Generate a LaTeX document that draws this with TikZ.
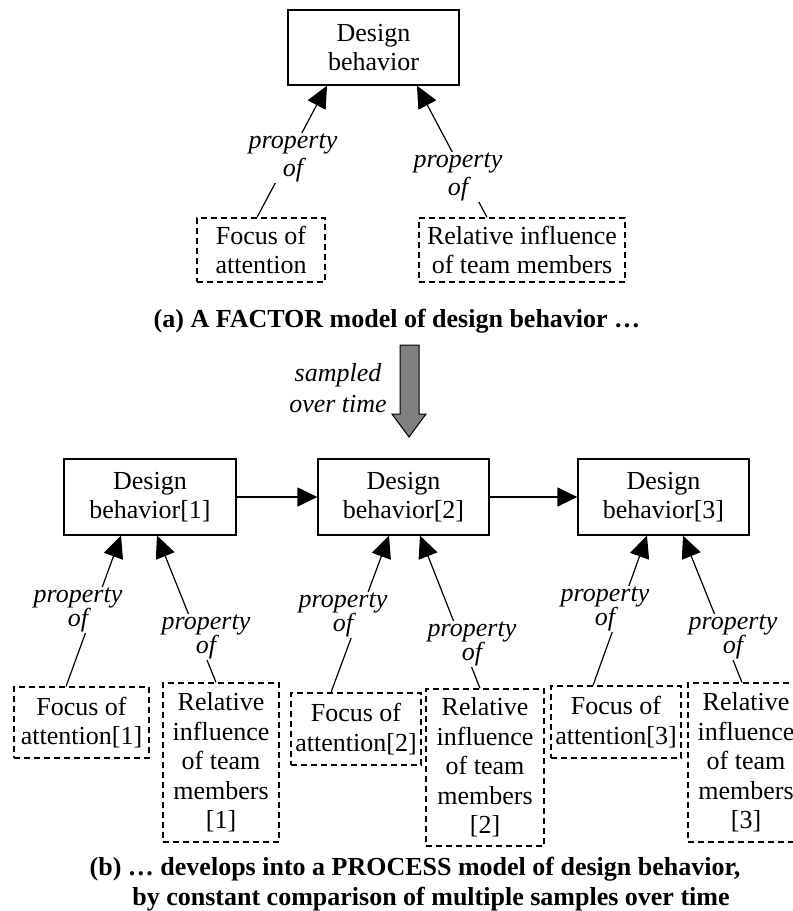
\documentclass[tikz,border=0pt]{standalone}
\usepackage{fontspec}
\setmainfont{Liberation Serif}
\usetikzlibrary{arrows.meta}

\tikzset{
  factorbox/.style={draw, line width=1.2pt, align=center, inner sep=0pt,
    font=\fontsize{26}{29.5}\selectfont},
  samplebox/.style={factorbox, dash pattern=on 6pt off 4pt},
  proparrow/.style={line width=1.2pt, -{Triangle[length=22pt,width=20pt]}},
  nextarrow/.style={line width=1.2pt, -{Triangle[length=20pt,width=19pt]}},
  proplabel/.style={fill=white, inner sep=1pt, align=center,
    font=\fontsize{26}{28.5}\selectfont\itshape},
  tightlabel/.style={proplabel, font=\fontsize{26}{24}\selectfont\itshape},
  caption/.style={font=\fontsize{26}{30}\selectfont\bfseries, inner sep=0pt}
}

\begin{document}
\begin{tikzpicture}[x=1pt,y=-1pt]
  \useasboundingbox (0,0) rectangle (793,911);

  % (a) the factor model
  \node[factorbox, minimum width=171pt, minimum height=75pt] (behav) at (373.5,47.5) {Design\\behavior};
  \node[samplebox, minimum width=128pt, minimum height=64pt] (focus) at (261,250) {Focus of\\attention};
  \node[samplebox, minimum width=206pt, minimum height=64pt] (influence) at (522,250) {Relative influence\\of team members};

  \draw[proparrow] ([xshift=-4pt]focus.north) -- ([xshift=-46.5pt]behav.south);
  \draw[proparrow] ([xshift=-35pt]influence.north) -- ([xshift=43.5pt]behav.south);
  \node[proplabel] (propfocus) at (293,158) {property\\of};
  \node[proplabel] (propinfl) at (458,177) {property\\of};

  \node[caption, anchor=base] (capa) at (397,327) {(a) A FACTOR model of design behavior …};

  % sampling arrow
  \draw[fill=gray, line width=1pt] (400,345) -- (419,345) -- (419,414) -- (426,414)
    -- (409,437) -- (392,414) -- (400,414) -- cycle;
  \node[proplabel, fill=none, font=\fontsize{26}{31}\selectfont\itshape] (sampled) at (338,388) {sampled\\over time};

  % (b) the process model
  \node[factorbox, minimum width=172pt, minimum height=76pt] (behav1) at (150,497) {Design\\behavior[1]};
  \node[factorbox, minimum width=171pt, minimum height=76pt] (behav2) at (403.5,497) {Design\\behavior[2]};
  \node[factorbox, minimum width=171pt, minimum height=76pt] (behav3) at (663.5,497) {Design\\behavior[3]};

  \draw[nextarrow] (behav1) -- (behav2);
  \draw[nextarrow] (behav2) -- (behav3);

  \node[samplebox, minimum width=135pt, minimum height=71pt] (focus1) at (81.5,722.5) {Focus of\\attention[1]};
  \node[samplebox, minimum width=116pt, minimum height=159pt] (infl1) at (221,762.5) {Relative\\influence\\of team\\members\\{[1]}};
  \node[samplebox, minimum width=130pt, minimum height=72pt] (focus2) at (356,729) {Focus of\\attention[2]};
  \node[samplebox, minimum width=118pt, minimum height=157pt] (infl2) at (485,767.5) {Relative\\influence\\of team\\members\\{[2]}};
  \node[samplebox, minimum width=130pt, minimum height=72pt] (focus3) at (616,722) {Focus of\\attention[3]};
  \node[samplebox, minimum width=116pt, minimum height=159pt] (infl3) at (746,762.5) {Relative\\influence\\of team\\members\\{[3]}};

  \draw[proparrow] ([xshift=-15.5pt]focus1.north) -- ([xshift=-29pt]behav1.south);
  \draw[proparrow] ([xshift=-5pt]infl1.north) -- ([xshift=7pt]behav1.south);
  \draw[proparrow] ([xshift=-25pt]focus2.north) -- ([xshift=-14.5pt]behav2.south);
  \draw[proparrow] ([xshift=-5pt]infl2.north) -- ([xshift=16.5pt]behav2.south);
  \draw[proparrow] ([xshift=-23pt]focus3.north) -- ([xshift=-16.5pt]behav3.south);
  \draw[proparrow] ([xshift=-4pt]infl3.north) -- ([xshift=19.5pt]behav3.south);

  \node[tightlabel] (propf1) at (78,610) {property\\of};
  \node[tightlabel] (propi1) at (206,637) {property\\of};
  \node[tightlabel] (propf2) at (343,615) {property\\of};
  \node[tightlabel] (propi2) at (472,644) {property\\of};
  \node[tightlabel] (propf3) at (605,609) {property\\of};
  \node[tightlabel] (propi3) at (733,637) {property\\of};

  \node[caption, anchor=base] (capb) at (415,875) {(b) … develops into a PROCESS model of design behavior,};
  \node[caption, anchor=base] (capc) at (431,905) {by constant comparison of multiple samples over time};
\end{tikzpicture}
\end{document}
